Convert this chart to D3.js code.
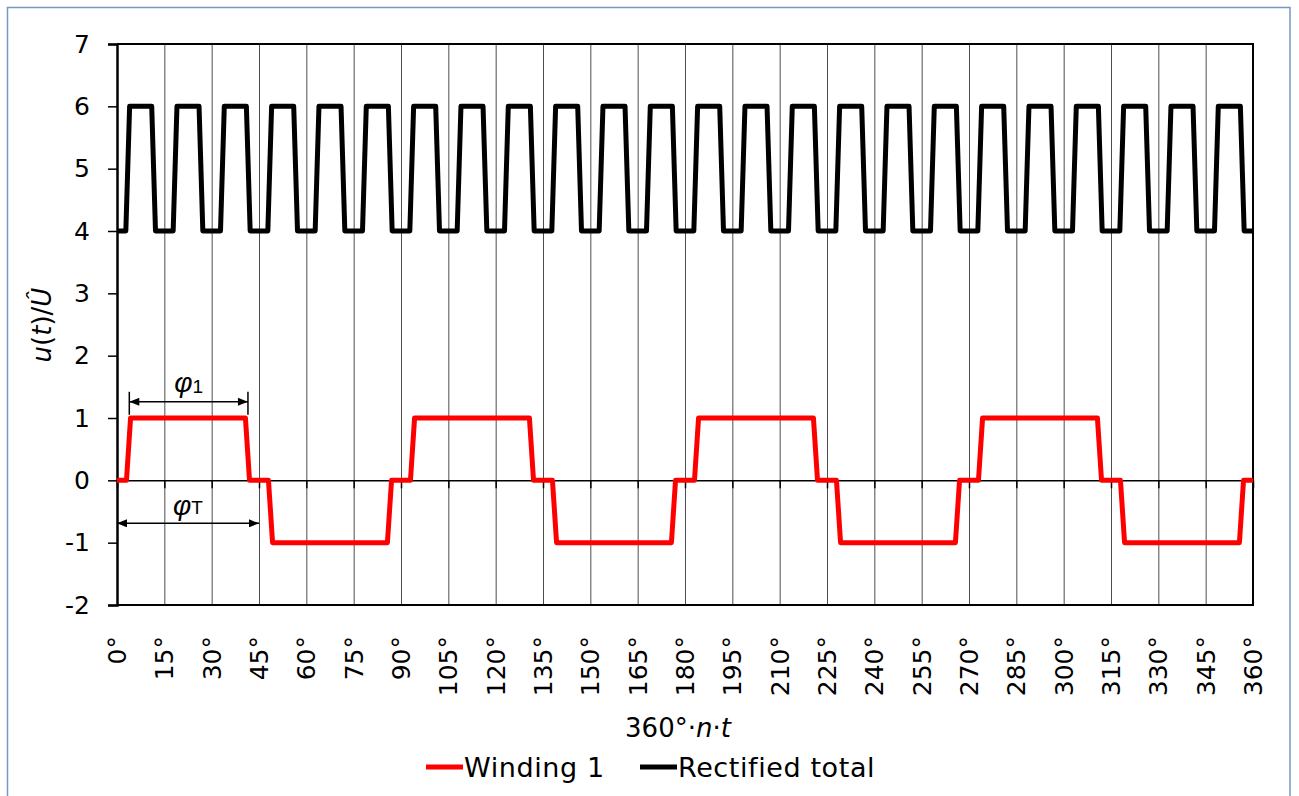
<!DOCTYPE html>
<meta charset="utf-8">
<style>
  html, body { margin: 0; background: #fff; }
  text { font-family: "DejaVu Sans", Verdana, sans-serif; fill: #000; }
  .phi { font-family: "Liberation Sans", Arial, sans-serif; }
</style>
<body>
<script src="https://cdn.jsdelivr.net/npm/d3@7"></script>
<script>
// x ticks every 15 degrees
var xTicks = [0, 15, 30, 45, 60, 75, 90, 105, 120, 135, 150, 165, 180, 195, 210, 225,
  240, 255, 270, 285, 300, 315, 330, 345, 360];
var yTicks = [-2, -1, 0, 1, 2, 3, 4, 5, 6, 7];

// Winding 1 (red), breakpoints in degrees and values
var redDeg = [0, 3, 4.3, 40.7, 42, 48, 49.3, 85.7,
  87, 93, 94.3, 130.7, 132, 138, 139.3, 175.7,
  177, 183, 184.3, 220.7, 222, 228, 229.3, 265.7,
  267, 273, 274.3, 310.7, 312, 318, 319.3, 355.7,
  357, 360];
var redVal = [0, 0, 1, 1, 0, 0, -1, -1,
  0, 0, 1, 1, 0, 0, -1, -1,
  0, 0, 1, 1, 0, 0, -1, -1,
  0, 0, 1, 1, 0, 0, -1, -1,
  0, 0];

// Rectified total (black)
var blackDeg = [0,
  2.8, 4, 11, 12.2, 17.8, 19, 26, 27.2, 32.8, 34, 41, 42.2,
  47.8, 49, 56, 57.2, 62.8, 64, 71, 72.2, 77.8, 79, 86, 87.2,
  92.8, 94, 101, 102.2, 107.8, 109, 116, 117.2, 122.8, 124, 131, 132.2,
  137.8, 139, 146, 147.2, 152.8, 154, 161, 162.2, 167.8, 169, 176, 177.2,
  182.8, 184, 191, 192.2, 197.8, 199, 206, 207.2, 212.8, 214, 221, 222.2,
  227.8, 229, 236, 237.2, 242.8, 244, 251, 252.2, 257.8, 259, 266, 267.2,
  272.8, 274, 281, 282.2, 287.8, 289, 296, 297.2, 302.8, 304, 311, 312.2,
  317.8, 319, 326, 327.2, 332.8, 334, 341, 342.2, 347.8, 349, 356, 357.2,
  360];
var blackVal = [4,
  4, 6, 6, 4, 4, 6, 6, 4, 4, 6, 6, 4,
  4, 6, 6, 4, 4, 6, 6, 4, 4, 6, 6, 4,
  4, 6, 6, 4, 4, 6, 6, 4, 4, 6, 6, 4,
  4, 6, 6, 4, 4, 6, 6, 4, 4, 6, 6, 4,
  4, 6, 6, 4, 4, 6, 6, 4, 4, 6, 6, 4,
  4, 6, 6, 4, 4, 6, 6, 4, 4, 6, 6, 4,
  4, 6, 6, 4, 4, 6, 6, 4, 4, 6, 6, 4,
  4, 6, 6, 4, 4, 6, 6, 4, 4, 6, 6, 4,
  4];

// phi annotations: [from deg, to deg, y value]
var phi1Span = [3.9, 41.5, 1.26];
var phiTSpan = [0, 45, -0.69];

var width = 1299, height = 796;
var margin = { top: 44, right: 46, bottom: 191, left: 117 };
var w = width - margin.left - margin.right,
  h = height - margin.top - margin.bottom;

var svg = d3.select("body").append("svg")
  .attr("width", width)
  .attr("height", height);

// chart area border
svg.append("rect")
  .attr("x", 7.5).attr("y", 7.5)
  .attr("width", 1282.5).attr("height", 820)
  .attr("fill", "none")
  .attr("stroke", "#7896c4")
  .attr("stroke-width", 1.5);

var defs = svg.append("defs");
defs.append("marker")
  .attr("id", "arr")
  .attr("markerUnits", "userSpaceOnUse")
  .attr("viewBox", "0 0 10 8")
  .attr("refX", 10).attr("refY", 4)
  .attr("markerWidth", 11).attr("markerHeight", 8)
  .attr("orient", "auto-start-reverse")
  .append("path")
  .attr("d", "M0,0L10,4L0,8Z")
  .attr("fill", "#000");

var g = svg.append("g")
  .attr("transform", "translate(" + margin.left + "," + margin.top + ")");

var x = d3.scaleLinear().domain([0, 360]).range([0, w]);
var y = d3.scaleLinear().domain([-2, 7]).range([h, 0]);

// vertical gridlines
g.append("g")
  .attr("transform", "translate(0," + h + ")")
  .call(d3.axisBottom(x).tickValues(xTicks.slice(1, -1)).tickSize(-h).tickFormat(""))
  .call(function (s) {
    s.select(".domain").remove();
    s.selectAll("line").attr("stroke", "#4d4d4d").attr("stroke-width", 1);
  });

// plot area border (top, right, bottom)
g.append("path")
  .attr("d", "M0,0H" + w + "V" + h + "H0")
  .attr("fill", "none")
  .attr("stroke", "#000")
  .attr("stroke-width", 2);

// horizontal axis at zero with outside ticks
g.append("g")
  .attr("transform", "translate(0," + y(0) + ")")
  .call(d3.axisBottom(x).tickValues(xTicks).tickSize(8).tickSizeOuter(0).tickFormat(""))
  .call(function (s) {
    s.select(".domain").attr("stroke", "#000").attr("stroke-width", 1.5);
    s.selectAll("line").attr("stroke", "#000").attr("stroke-width", 1.5);
  });

// x tick labels, rotated, low position
g.append("g")
  .selectAll("text")
  .data(xTicks)
  .enter().append("text")
  .attr("transform", function (d) { return "translate(" + x(d) + "," + (h + 31) + ") rotate(-90)"; })
  .attr("dy", "0.36em")
  .attr("text-anchor", "end")
  .style("font-size", "25px")
  .text(function (d) { return d + "°"; });

// y axis
g.append("g")
  .call(d3.axisLeft(y).tickValues(yTicks).tickSize(9).tickPadding(18))
  .call(function (s) {
    s.select(".domain").attr("stroke", "#000").attr("stroke-width", 2.5);
    s.selectAll("line").attr("stroke", "#000").attr("stroke-width", 1.5);
    s.selectAll("text")
      .style("font-family", "'DejaVu Sans', Verdana, sans-serif")
      .style("font-size", "25px")
      .text(function (d) { return d < 0 ? "-" + Math.abs(d) : d; });
  });

var line = d3.line()
  .x(function (d) { return x(d[0]); })
  .y(function (d) { return y(d[1]); });

var redPts = redDeg.map(function (d, i) { return [d, redVal[i]]; });
var blackPts = blackDeg.map(function (d, i) { return [d, blackVal[i]]; });

g.append("path")
  .datum(redPts)
  .attr("d", line)
  .attr("fill", "none")
  .attr("stroke", "#ff0000")
  .attr("stroke-width", 5)
  .attr("stroke-linejoin", "round");

g.append("path")
  .datum(blackPts)
  .attr("d", line)
  .attr("fill", "none")
  .attr("stroke", "#000")
  .attr("stroke-width", 5)
  .attr("stroke-linejoin", "round");

// phi_1 annotation
g.append("line")
  .attr("x1", x(phi1Span[0])).attr("x2", x(phi1Span[1]))
  .attr("y1", y(phi1Span[2])).attr("y2", y(phi1Span[2]))
  .attr("stroke", "#000").attr("stroke-width", 1.5)
  .attr("marker-start", "url(#arr)").attr("marker-end", "url(#arr)");
[phi1Span[0], phi1Span[1]].forEach(function (d) {
  g.append("line")
    .attr("x1", x(d)).attr("x2", x(d))
    .attr("y1", y(phi1Span[2]) - 10).attr("y2", y(phi1Span[2]) + 13)
    .attr("stroke", "#000").attr("stroke-width", 1.5);
});
var t1 = g.append("text").attr("class", "phi")
  .attr("x", x(22.7)).attr("y", y(phi1Span[2]) - 10)
  .attr("text-anchor", "middle")
  .style("font-size", "28px");
t1.append("tspan").style("font-style", "italic").text("φ");
t1.append("tspan").attr("dy", 1).style("font-size", "19px").text("1");

// phi_T annotation
g.append("line")
  .attr("x1", x(phiTSpan[0])).attr("x2", x(phiTSpan[1]))
  .attr("y1", y(phiTSpan[2])).attr("y2", y(phiTSpan[2]))
  .attr("stroke", "#000").attr("stroke-width", 1.5)
  .attr("marker-start", "url(#arr)").attr("marker-end", "url(#arr)");
var t2 = g.append("text").attr("class", "phi")
  .attr("x", x(22.5)).attr("y", y(phiTSpan[2]) - 8)
  .attr("text-anchor", "middle")
  .style("font-size", "28px");
t2.append("tspan").style("font-style", "italic").text("φ");
t2.append("tspan").attr("dy", -1).style("font-size", "19px").text("T");

// axis titles
var yt = svg.append("text")
  .attr("transform", "translate(51,325) rotate(-90)")
  .attr("text-anchor", "middle")
  .style("font-size", "26px");
yt.append("tspan").style("font-style", "italic").text("u");
yt.append("tspan").text("(");
yt.append("tspan").style("font-style", "italic").text("t");
yt.append("tspan").text(")/");
yt.append("tspan").style("font-style", "italic").text("Û");

var xt = svg.append("text")
  .attr("x", 678).attr("y", 737)
  .attr("text-anchor", "middle")
  .style("font-size", "26px");
xt.append("tspan").text("360°·");
xt.append("tspan").style("font-style", "italic").text("n");
xt.append("tspan").text("·");
xt.append("tspan").style("font-style", "italic").text("t");

// legend
var legend = [
  { name: "Winding 1", color: "#ff0000", x: 426 },
  { name: "Rectified total", color: "#000", x: 640 }
];
var lg = svg.append("g");
legend.forEach(function (d) {
  lg.append("line")
    .attr("x1", d.x).attr("x2", d.x + 37)
    .attr("y1", 767).attr("y2", 767)
    .attr("stroke", d.color).attr("stroke-width", 5);
  lg.append("text")
    .attr("x", d.x + 38).attr("y", 777)
    .style("font-size", "27px")
    .style("letter-spacing", "0.6px")
    .text(d.name);
});
</script>
</body>
